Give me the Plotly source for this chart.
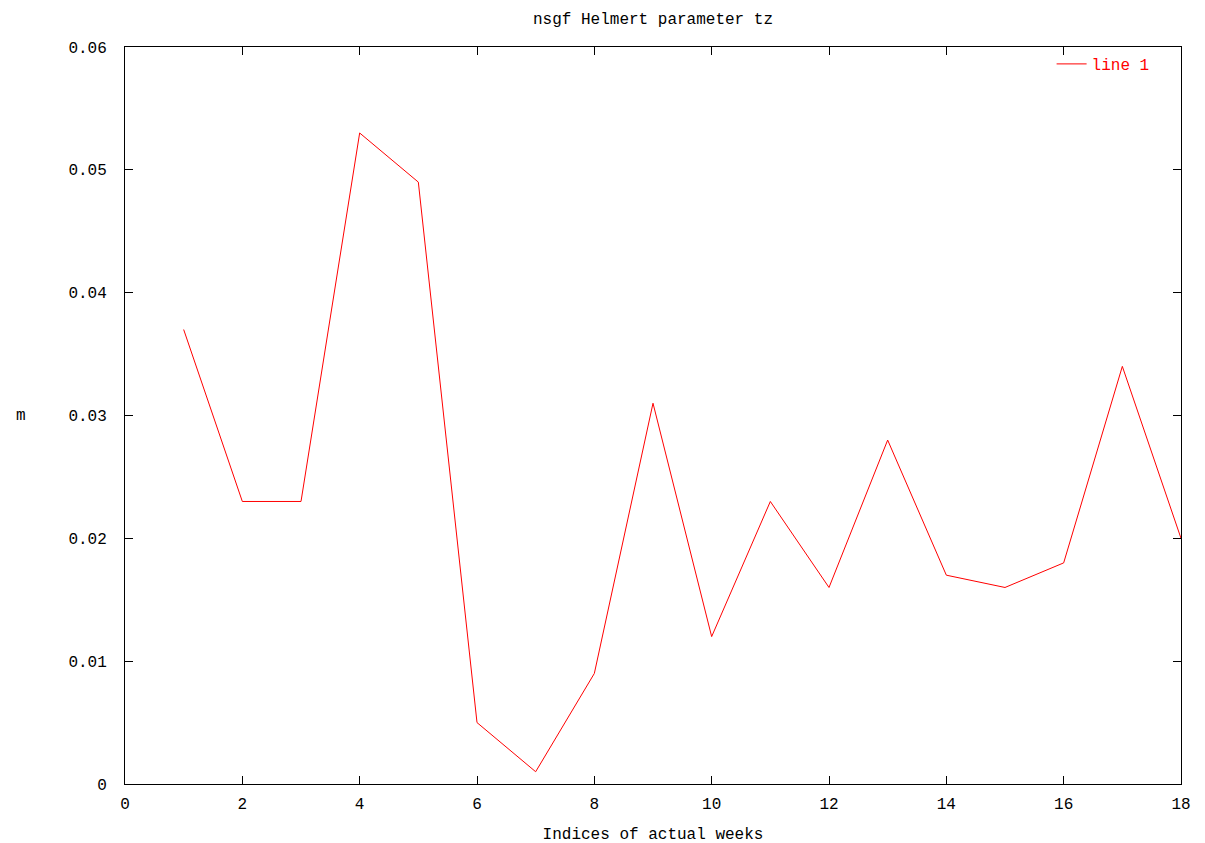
import plotly.graph_objects as go

weeks = list(range(1, 19))
tz = [0.037, 0.023, 0.023, 0.053, 0.049, 0.005, 0.001, 0.009, 0.031,
      0.012, 0.023, 0.016, 0.028, 0.017, 0.016, 0.018, 0.034, 0.020]

title_text = "nsgf Helmert parameter tz"
x_title = "Indices of actual weeks"
y_title = "m"
series_name = "line 1"

FONT = "Liberation Mono, DejaVu Sans Mono, monospace"
FS = 16

fig = go.Figure()
fig.add_trace(go.Scatter(x=weeks, y=tz, mode="lines", name=series_name,
                         line=dict(color="#ff0000", width=1)))

fig.update_layout(
    width=1205, height=843,
    margin=dict(l=117, r=32, t=39, b=67),
    paper_bgcolor="white", plot_bgcolor="white",
    font=dict(family=FONT, size=FS, color="black"),
    title=dict(text=title_text, xref="paper", x=0.5, xanchor="center", y=0.988, yanchor="middle",
               font=dict(family=FONT, size=FS, color="black")),
    showlegend=True,
    legend=dict(x=0.975, y=1.0, xanchor="right", yanchor="top",
                bgcolor="rgba(0,0,0,0)", font=dict(family=FONT, size=FS, color="#ff0000")),
)
fig.update_xaxes(range=[0, 18], dtick=2, tick0=0, showgrid=False, zeroline=False,
                 showline=True, linecolor="black", linewidth=1, mirror="ticks",
                 ticks="inside", ticklen=8, tickcolor="black", ticklabelstandoff=5,
                 title=dict(text=x_title, standoff=14, font=dict(family=FONT, size=FS)))
fig.update_yaxes(range=[0, 0.06], dtick=0.01, tick0=0, showgrid=False, zeroline=False,
                 showline=True, linecolor="black", linewidth=1, mirror="ticks",
                 ticks="inside", ticklen=8, tickcolor="black", ticklabelstandoff=14)
fig.add_annotation(text=y_title, xref="paper", yref="paper", x=-0.0985, y=0.5,
                   showarrow=False, xanchor="center", yanchor="middle",
                   font=dict(family=FONT, size=FS, color="black"))

fig.write_html("out.html")
